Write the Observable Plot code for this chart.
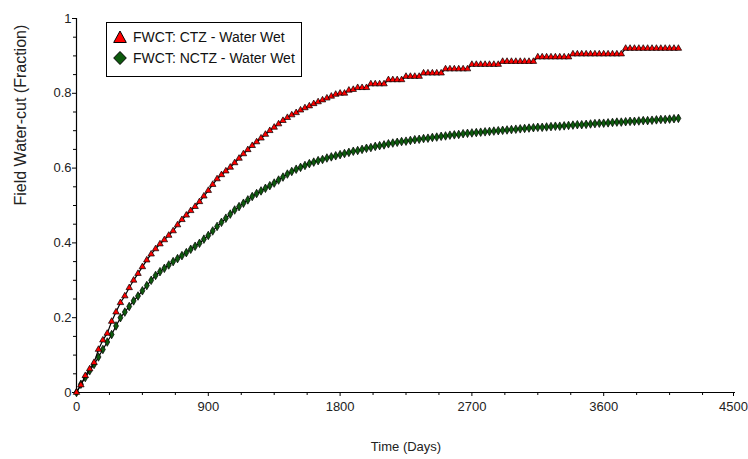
<!DOCTYPE html>
<html>
<head>
<meta charset="utf-8">
<script src="https://cdn.jsdelivr.net/npm/d3@7"></script>
<script src="https://cdn.jsdelivr.net/npm/@observablehq/plot@0.6"></script>
<style>
  html, body { margin: 0; padding: 0; background: #fff; }
  #wrap { position: relative; width: 748px; height: 459px; font-family: "Liberation Sans", Arial, sans-serif; }
  #legend { position: absolute; left: 106px; top: 22px; width: 196px; height: 55px; border: 1px solid #000; background: #fff; box-sizing: border-box; }
  .item { position: absolute; left: 6px; display: flex; align-items: center; font-size: 14px; color: #111; white-space: nowrap; }
  .item svg { margin-right: 6px; }
</style>
</head>
<body>
<div id="wrap"></div>
<script>
const days = [0,30,60,90,120,150,180,210,240,270,300,330,360,390,420,450,480,510,540,570,600,630,660,690,720,750,780,810,840,870,900,930,960,990,1020,1050,1080,1110,1140,1170,1200,1230,1260,1290,1320,1350,1380,1410,1440,1470,1500,1530,1560,1590,1620,1650,1680,1710,1740,1770,1800,1830,1860,1890,1920,1950,1980,2010,2040,2070,2100,2130,2160,2190,2220,2250,2280,2310,2340,2370,2400,2430,2460,2490,2520,2550,2580,2610,2640,2670,2700,2730,2760,2790,2820,2850,2880,2910,2940,2970,3000,3030,3060,3090,3120,3150,3180,3210,3240,3270,3300,3330,3360,3390,3420,3450,3480,3510,3540,3570,3600,3630,3660,3690,3720,3750,3780,3810,3840,3870,3900,3930,3960,3990,4020,4050,4080,4110];

const fwctCTZ = [0,0.02,0.045,0.063,0.08,0.115,0.14,0.158,0.19,0.215,0.24,0.258,0.28,0.30,0.318,0.336,0.354,0.37,0.384,0.397,0.408,0.42,0.432,0.448,0.462,0.474,0.486,0.497,0.51,0.525,0.54,0.556,0.571,0.582,0.592,0.602,0.614,0.626,0.638,0.649,0.66,0.67,0.68,0.69,0.70,0.709,0.718,0.727,0.735,0.742,0.748,0.755,0.761,0.766,0.772,0.777,0.782,0.787,0.792,0.797,0.80,0.80,0.808,0.81,0.815,0.815,0.815,
0.825,0.825,0.825,0.825,
0.836,0.836,0.836,0.836,
0.845,0.845,0.845,0.845,
0.854,0.854,0.854,0.854,0.854,
0.865,0.865,0.865,0.865,0.865,0.865,
0.877,0.877,0.877,0.877,0.877,0.877,0.877,
0.885,0.885,0.885,0.885,0.885,0.885,0.885,0.885,
0.897,0.897,0.897,0.897,0.897,0.897,0.897,0.897,
0.905,0.905,0.905,0.905,0.905,0.905,0.905,0.905,0.905,0.905,0.905,0.905,
0.92,0.92,0.92,0.92,0.92,0.92,0.92,0.92,0.92,0.92,0.92,0.92,0.92];

const fwctNCTZ = [0,0.022,0.04,0.058,0.075,0.095,0.115,0.135,0.155,0.178,0.2,0.215,0.23,0.245,0.258,0.272,0.286,0.3,0.313,0.323,0.332,0.341,0.35,0.358,0.366,0.374,0.383,0.391,0.399,0.41,0.42,0.432,0.444,0.455,0.466,0.477,0.488,0.497,0.506,0.515,0.524,0.532,0.539,0.546,0.553,0.56,0.568,0.576,0.584,0.591,0.597,0.602,0.607,0.612,0.616,0.62,0.623,0.627,0.63,0.633,0.636,0.639,0.642,0.645,0.647,0.65,0.653,0.655,0.658,0.66,0.662,0.665,0.667,0.669,0.671,0.672,0.674,0.676,0.677,0.679,0.68,0.682,0.683,0.685,0.686,0.688,0.689,0.69,0.692,0.693,0.694,0.695,0.696,0.697,0.698,0.699,0.70,0.701,0.702,0.703,0.704,0.705,0.706,0.707,0.708,0.709,0.709,0.71,0.711,0.712,0.712,0.713,0.714,0.715,0.716,0.716,0.717,0.718,0.719,0.72,0.72,0.721,0.722,0.723,0.723,0.724,0.725,0.725,0.726,0.727,0.727,0.728,0.729,0.73,0.73,0.731,0.732,0.733];

const seriesNames = ["FWCT: CTZ - Water Wet", "FWCT: NCTZ - Water Wet"];
const xTicks = [0, 900, 1800, 2700, 3600];
const xLastTick = [4500];
const xMinor = [225,450,675,1125,1350,1575,2025,2250,2475,2925,3150,3375,3825,4050,4275];
const yTicks = [0, 0.2, 0.4, 0.6, 0.8, 1];
const yMinor = [0.05,0.1,0.15,0.25,0.3,0.35,0.45,0.5,0.55,0.65,0.7,0.75,0.85,0.9,0.95];
const xLabel = "Time (Days)";
const yLabel = "Field Water-cut (Fraction)";

const ctz = days.map((d, i) => ({t: d, v: fwctCTZ[i]}));
const nctz = days.map((d, i) => ({t: d, v: fwctNCTZ[i]}));

const chart = Plot.plot({
  width: 748,
  height: 459,
  marginLeft: 76,
  marginRight: 13,
  marginTop: 18,
  marginBottom: 67,
  style: {fontFamily: "Liberation Sans, Arial, sans-serif", fontSize: "13px", color: "#222", background: "#fff"},
  x: {domain: [0, 4500]},
  y: {domain: [0, 1]},
  marks: [
    Plot.axisX({ticks: xTicks, tickSize: 4, tickPadding: 5, label: null, stroke: "#000", fontSize: 13, tickFormat: d => String(d)}),
    Plot.axisX({ticks: xLastTick, tickSize: 4, tickPadding: 5, label: null, stroke: "#000", fontSize: 13, dx: -2, tickFormat: d => String(d)}),
    Plot.axisX({ticks: xMinor, tickSize: 3, tickFormat: () => "", label: null, stroke: "#000"}),
    Plot.axisY({ticks: yTicks, tickSize: 4, tickPadding: 1, label: null, stroke: "#000", fontSize: 13, tickFormat: d => d === 0 ? "0" : d === 1 ? "1" : d.toFixed(1)}),
    Plot.axisY({ticks: yMinor, tickSize: 3, tickFormat: () => "", label: null, stroke: "#000"}),
    Plot.ruleY([0], {stroke: "#000", strokeWidth: 1.2}),
    Plot.ruleX([0], {stroke: "#000", strokeWidth: 1.2}),
    Plot.line(nctz, {x: "t", y: "v", stroke: "#000", strokeWidth: 1.2}),
    Plot.dot(nctz, {x: "t", y: "v", symbol: "diamond", fill: "#0d5a0d", stroke: "#000", strokeWidth: 0.7, r: 2.6}),
    Plot.line(ctz, {x: "t", y: "v", stroke: "#000", strokeWidth: 1.2}),
    Plot.dot(ctz, {x: "t", y: "v", symbol: "triangle", fill: "#ff0000", stroke: "#000", strokeWidth: 0.7, r: 2.4}),
    Plot.text([xLabel], {frameAnchor: "bottom", dy: 58, fontSize: 13, fill: "#222", letterSpacing: "0.4px"}),
    Plot.text([yLabel], {frameAnchor: "left", dx: -56, rotate: -90, fontSize: 16, fill: "#222", letterSpacing: "1px"})
  ]
});

const wrap = document.getElementById("wrap");
wrap.appendChild(chart);

const legend = document.createElement("div");
legend.id = "legend";
const sym = [
  '<svg width="14" height="14" viewBox="-7 -7 14 14"><path d="M0,-6L6.3,5.5L-6.3,5.5Z" fill="#ff0000" stroke="#000" stroke-width="1"/></svg>',
  '<svg width="14" height="14" viewBox="-7 -7 14 14"><path d="M0,-6.5L6.3,0L0,6.5L-6.3,0Z" fill="#0d5a0d" stroke="#000" stroke-width="1"/></svg>'
];
seriesNames.forEach((name, i) => {
  const it = document.createElement("div");
  it.className = "item";
  it.style.top = (6 + i * 21) + "px";
  it.innerHTML = sym[i] + "<span>" + name + "</span>";
  legend.appendChild(it);
});
wrap.appendChild(legend);
</script>
</body>
</html>
